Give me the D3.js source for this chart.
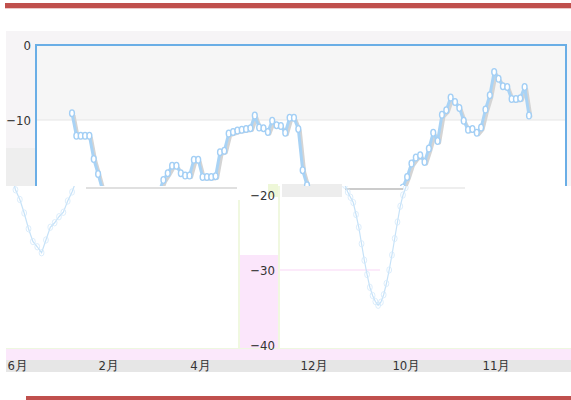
<!DOCTYPE html>
<html>
<head>
<meta charset="utf-8">
<script src="https://cdn.jsdelivr.net/npm/d3@7"></script>
<style>
    body { margin: 0; background: #fff; }
    svg { display: block; }
    text { font-family: "DejaVu Sans Condensed", "Liberation Sans Narrow", sans-serif; font-stretch: condensed; font-size: 13px; fill: #333; }
</style>
</head>
<body>
<svg width="571" height="400"></svg>
<script>
// values, one per point (left to right)
const values = [
    -9.1, -12.1, -12.1, -12.1, -12.1, -15.2, -17.2,
    -19.3, -20.6, -22.4, -24.5, -26.2, -26.9, -27.7, -26.0, -24.3, -23.7, -22.9, -22.3, -20.8, -19.6,
    -18.0, -17.1, -16.1, -16.1, -17.1, -17.4, -17.4, -15.3, -15.3, -17.6, -17.6, -17.6, -17.5, -14.3, -14.1,
    -11.8, -11.6, -11.4, -11.3, -11.2, -11.1, -9.4, -11.0, -11.1, -11.6, -10.1, -10.7, -10.8, -11.7, -9.7,
    -9.7, -11.2, -16.7,
    -18.7, -19.6, -20.3, -21.0, -22.6, -24.3, -26.5, -28.7, -30.6, -32.3, -33.4, -34.2, -34.7, -34.3, -33.3,
    -31.8, -30.0, -28.0, -25.8, -23.6, -21.5, -20.0, -19.0,
    -17.6, -15.8, -15.0, -14.7, -15.6, -13.8, -11.7, -12.8, -9.3, -8.7, -7.0, -7.6, -8.4, -10.1, -11.3,
    -11.2, -11.7, -11.0, -8.6, -6.7, -3.6, -4.5, -5.5, -5.6, -7.2, -7.2, -7.1, -5.6, -9.4
];
const monthLabels = ["6月", "2月", "4月", "12月", "10月", "11月"];
const monthAt = [-12.6, 8.3, 29.4, 55.6, 76.7, 97.4];
const upperTicks = [0, -10];
const lowerTicks = [-20, -30, -40];

const svg = d3.select("svg");

const x = d3.scaleLinear()
    .domain([0, values.length - 1])
    .range([72, 529]);

const y = d3.scaleLinear()
    .domain([0, -40])
    .range([45, 345]);

// red rules top and bottom
svg.append("rect").attr("x", 5).attr("y", 3).attr("width", 566).attr("height", 5).attr("fill", "#c0504d");
svg.append("rect").attr("x", 5).attr("y", 8).attr("width", 566).attr("height", 1).attr("fill", "#ecc9c8");
svg.append("rect").attr("x", 26).attr("y", 396).attr("width", 545).attr("height", 4).attr("fill", "#c0504d");

// upper panel
svg.append("rect").attr("x", 6).attr("y", 31).attr("width", 565).attr("height", 155).attr("fill", "#f6f4f6");
svg.append("rect").attr("x", 6).attr("y", 148).attr("width", 30).attr("height", 38).attr("fill", "#eeeeee");
svg.append("rect").attr("x", 36).attr("y", y(0)).attr("width", 530).attr("height", y(-10) - y(0)).attr("fill", "#f6f6f6");
svg.append("rect").attr("x", 36).attr("y", y(-10)).attr("width", 530).attr("height", 186 - y(-10)).attr("fill", "#ffffff");
svg.append("line").attr("x1", 36).attr("x2", 566).attr("y1", y(-10)).attr("y2", y(-10))
    .attr("stroke", "#e6e6e6").attr("stroke-width", 1);

// lower scraps
svg.append("rect").attr("x", 6).attr("y", 348).attr("width", 565).attr("height", 12).attr("fill", "#fbe8fb");
svg.append("rect").attr("x", 6).attr("y", 348).attr("width", 565).attr("height", 1).attr("fill", "#eef8e0");
svg.append("rect").attr("x", 6).attr("y", 360).attr("width", 565).attr("height", 12).attr("fill", "#e6e6e6");
svg.append("rect").attr("x", 240).attr("y", 255).attr("width", 38).attr("height", 93).attr("fill", "#fbe6fb");
svg.append("rect").attr("x", 238).attr("y", 200).attr("width", 2).attr("height", 148).attr("fill", "#f0f8e0");
svg.append("rect").attr("x", 278).attr("y", 186).attr("width", 2).attr("height", 162).attr("fill", "#f0f8e0");
svg.append("rect").attr("x", 268).attr("y", 184).attr("width", 10).attr("height", 13).attr("fill", "#eef7d8");
svg.append("rect").attr("x", 282).attr("y", 184).attr("width", 60).attr("height", 13).attr("fill", "#ededed");
svg.append("line").attr("x1", 280).attr("x2", 380).attr("y1", y(-30)).attr("y2", y(-30))
    .attr("stroke", "#fbe3f8").attr("stroke-width", 1.5);
svg.append("line").attr("x1", 86).attr("x2", 237).attr("y1", 188).attr("y2", 188)
    .attr("stroke", "#d6d6d6").attr("stroke-width", 1.5);
svg.append("line").attr("x1", 345).attr("x2", 403).attr("y1", 189).attr("y2", 189)
    .attr("stroke", "#cccccc").attr("stroke-width", 2);
svg.append("line").attr("x1", 420).attr("x2", 465).attr("y1", 188).attr("y2", 188)
    .attr("stroke", "#dddddd").attr("stroke-width", 1);

// frame
svg.append("path")
    .attr("d", "M36,186V45H566V186")
    .attr("fill", "none")
    .attr("stroke", "#6aaee6")
    .attr("stroke-width", 2);

const line = d3.line()
    .x(function (d, i) { return x(i); })
    .y(function (d) { return y(d); });

// faint copies of the two dips, shifted as in the picture
svg.append("clipPath").attr("id", "lower")
    .append("rect").attr("x", 0).attr("y", 186).attr("width", 571).attr("height", 160);

function ghost(first, last, shift, squeeze) {
    const g = svg.append("g").attr("clip-path", "url(#lower)")
        .append("g").attr("transform", "translate(" + shift + ",0) scale(" + squeeze + ",1)");
    const part = values.slice(first, last + 1);
    const partLine = d3.line()
        .x(function (d, i) { return x(first + i); })
        .y(function (d) { return y(d); });
    g.append("path")
        .attr("d", partLine(part))
        .attr("fill", "none")
        .attr("stroke", "#c6e2f8")
        .attr("stroke-width", 1.2)
        .attr("vector-effect", "non-scaling-stroke");
    g.selectAll("ellipse").data(part).enter().append("ellipse")
        .attr("cx", function (d, i) { return x(first + i); })
        .attr("cy", function (d) { return y(d); })
        .attr("rx", 2.4 / squeeze)
        .attr("ry", 3.2)
        .attr("fill", "none")
        .attr("stroke", "#d3e9fa")
        .attr("stroke-width", 0.8)
        .attr("vector-effect", "non-scaling-stroke");
}
ghost(5, 22, -87, 1);
ghost(52, 78, 150, 0.635);

// series, cut where the upper panel ends
svg.append("clipPath").attr("id", "upper")
    .append("rect").attr("x", 0).attr("y", 31).attr("width", 571).attr("height", 155);

const plot = svg.append("g").attr("clip-path", "url(#upper)");
plot.append("path")
    .attr("d", line(values))
    .attr("transform", "translate(2,2)")
    .attr("fill", "none")
    .attr("stroke", "#d4d4d4")
    .attr("stroke-width", 3)
    .attr("stroke-linejoin", "round");
plot.append("path")
    .attr("d", line(values))
    .attr("fill", "none")
    .attr("stroke", "#a9d3f5")
    .attr("stroke-width", 3)
    .attr("stroke-linejoin", "round");
plot.selectAll("ellipse").data(values).enter().append("ellipse")
    .attr("cx", function (d, i) { return x(i); })
    .attr("cy", function (d) { return y(d); })
    .attr("rx", 2.4)
    .attr("ry", 3.4)
    .attr("fill", "#ffffff")
    .attr("stroke", "#a3cff5")
    .attr("stroke-width", 1.4);

// axes
const upperAxis = svg.append("g")
    .attr("transform", "translate(36,0)")
    .call(d3.axisLeft(y).tickValues(upperTicks).tickSize(0).tickPadding(5));
upperAxis.select(".domain").remove();

const lowerAxis = svg.append("g")
    .attr("transform", "translate(280,0)")
    .call(d3.axisLeft(y).tickValues(lowerTicks).tickSize(0).tickPadding(5));
lowerAxis.select(".domain").remove();

const bottomAxis = svg.append("g")
    .attr("transform", "translate(0,359)")
    .call(d3.axisBottom(x).tickValues(monthAt).tickSize(0).tickPadding(2)
        .tickFormat(function (d, i) { return monthLabels[i]; }));
bottomAxis.select(".domain").remove();

svg.selectAll(".tick text")
    .attr("fill", "#333")
    .style("font-size", "13px")
    .style("font-family", "'DejaVu Sans Condensed', 'Liberation Sans Narrow', sans-serif");
</script>
</body>
</html>
